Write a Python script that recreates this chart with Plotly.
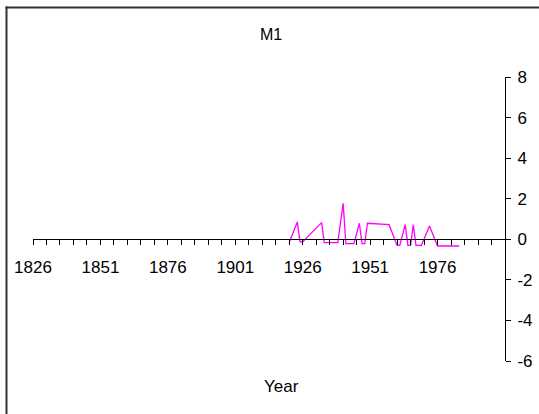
import plotly.graph_objects as go

years = [1921, 1924, 1925, 1926, 1933, 1934, 1939, 1941, 1942, 1945, 1947, 1948, 1949, 1950,
         1958, 1961, 1962, 1964, 1965, 1966, 1967, 1968, 1970, 1973, 1976, 1984]
values = [-0.16, 0.85, -0.13, -0.13, 0.82, -0.16, -0.16, 1.77, -0.21, -0.21, 0.79, -0.21, -0.21, 0.79,
          0.72, -0.30, -0.30, 0.72, -0.30, -0.30, 0.72, -0.30, -0.30, 0.66, -0.33, -0.33]

x_major = [1826, 1851, 1876, 1901, 1926, 1951, 1976]
y_ticks = [-6, -4, -2, 0, 2, 4, 6, 8]
y_labels = ["-6", "-4", "-2", "0", "2", "4", "6", "8"]

W, H = 539, 414
L, R, T, B = 33, 34, 77, 53
pw, ph = W - L - R, H - T - B

def px_x(p):
    return (p - L) / pw

def px_y(p):
    return (H - B - p) / ph

fig = go.Figure()
fig.add_trace(go.Scatter(x=years, y=values, mode="lines",
                         line=dict(color="#FF00FF", width=1.3), showlegend=False))

font = dict(family="Liberation Sans, Arial, sans-serif", size=16, color="#000")
tfont = dict(family="Liberation Sans, Arial, sans-serif", size=17, color="#000")

fig.update_layout(
    width=W, height=H,
    margin=dict(l=L, r=R, t=T, b=B, pad=0, autoexpand=False),
    paper_bgcolor="white", plot_bgcolor="white",
    font=font,
    xaxis=dict(range=[1826, 2001], anchor="free", position=6 / 14,
               showline=True, linecolor="#000", linewidth=1,
               ticks="outside", ticklen=5, tickcolor="#000", tickwidth=1,
               tickvals=x_major, ticktext=[str(v) for v in x_major],
               ticklabelstandoff=7,
               minor=dict(tick0=1826, dtick=5, ticks="outside", ticklen=5,
                          tickcolor="#000", tickwidth=1, showgrid=False),
               showgrid=False, zeroline=False, tickfont=tfont),
    yaxis=dict(range=[-6, 8], side="right", anchor="x",
               showline=True, linecolor="#000", linewidth=1,
               ticks="outside", ticklen=5, tickcolor="#000", tickwidth=1,
               tickvals=y_ticks, ticktext=y_labels, ticklabelstandoff=3,
               showgrid=False, zeroline=False, tickfont=tfont),
    annotations=[
        dict(text="M1", x=px_x(271), y=px_y(34), xref="paper", yref="paper",
             showarrow=False, xanchor="center", yanchor="middle", font=font),
        dict(text="Year", x=px_x(281), y=px_y(386), xref="paper", yref="paper",
             showarrow=False, xanchor="center", yanchor="middle",
             font=dict(family=font["family"], size=17, color="#000")),
    ],
    shapes=[
        dict(type="line", xref="paper", yref="paper",
             x0=px_x(6.5), x1=px_x(6.5), y0=px_y(6.5), y1=px_y(414),
             line=dict(color="#333", width=2)),
        dict(type="line", xref="paper", yref="paper",
             x0=px_x(5.5), x1=px_x(539), y0=px_y(7.5), y1=px_y(7.5),
             line=dict(color="#333", width=2)),
    ],
)

fig.write_html("out.html", config={"displayModeBar": False},
               post_script="document.body.style.margin='0';document.body.style.overflow='hidden';")
